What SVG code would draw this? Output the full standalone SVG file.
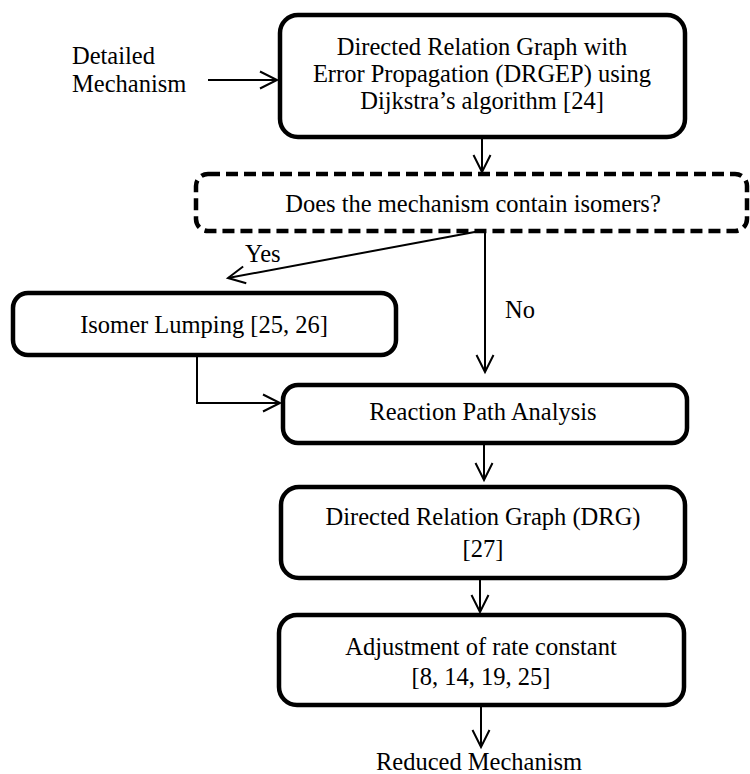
<svg xmlns="http://www.w3.org/2000/svg" width="750" height="774" viewBox="0 0 750 774">
<style>
  .box { fill: #ffffff; stroke: #000000; stroke-width: 4.5; }
  .dash { fill: #ffffff; stroke: #000000; stroke-width: 4.5; stroke-dasharray: 12 6; }
  .lbl { font-family: 'Liberation Serif', 'Times New Roman', serif; font-size: 24.5px; fill: #000000; }
  .c { text-anchor: middle; }
  .conn { fill: none; stroke: #000000; stroke-width: 2; marker-end: url(#arr); }
</style>
<defs>
  <marker id="arr" markerUnits="userSpaceOnUse" markerWidth="24" markerHeight="24" viewBox="-20 -12 24 24" refX="0" refY="0" orient="auto" overflow="visible">
    <path d="M-17,-8.5 L0,0 L-17,8.5" fill="none" stroke="#000000" stroke-width="2"/>
  </marker>
</defs>
<rect width="750" height="774" fill="#ffffff"/>

<g id="connectors">
  <path class="conn" d="M208,80 H277"/>
  <path class="conn" d="M482,137 V172"/>
  <path class="conn" d="M480,231 L228,278"/>
  <path class="conn" d="M485,231 V372"/>
  <path class="conn" d="M197,356 V403 H280"/>
  <path class="conn" d="M484,443 V480"/>
  <path class="conn" d="M480,578 V612"/>
  <path class="conn" d="M481,705 V747"/>
</g>

<g id="detailed" font-family="Liberation Serif, serif">
  <text class="lbl" x="72" y="64">Detailed</text>
  <text class="lbl" x="72" y="92">Mechanism</text>
</g>

<g id="drgep" font-family="Liberation Serif, serif">
  <rect class="box" x="280" y="15" width="405" height="122" rx="18"/>
  <text class="lbl c" x="482" y="55">Directed Relation Graph with</text>
  <text class="lbl c" x="482" y="82">Error Propagation (DRGEP) using</text>
  <text class="lbl c" x="482" y="109">Dijkstra’s algorithm [24]</text>
</g>

<g id="decision" font-family="Liberation Serif, serif">
  <rect class="dash" x="196" y="174" width="551" height="57" rx="12"/>
  <text class="lbl c" x="473" y="212">Does the mechanism contain isomers?</text>
</g>

<g id="yes-label" font-family="Liberation Serif, serif">
  <text class="lbl" x="245" y="262">Yes</text>
</g>
<g id="no-label" font-family="Liberation Serif, serif">
  <text class="lbl" x="505" y="318">No</text>
</g>

<g id="isomer" font-family="Liberation Serif, serif">
  <rect class="box" x="13" y="293" width="383" height="62" rx="15"/>
  <text class="lbl c" x="204" y="333">Isomer Lumping [25, 26]</text>
</g>

<g id="reaction" font-family="Liberation Serif, serif">
  <rect class="box" x="283" y="385" width="404" height="58" rx="15"/>
  <text class="lbl c" x="483" y="420">Reaction Path Analysis</text>
</g>

<g id="drg" font-family="Liberation Serif, serif">
  <rect class="box" x="281" y="487" width="404" height="91" rx="18"/>
  <text class="lbl c" x="483" y="525">Directed Relation Graph (DRG)</text>
  <text class="lbl c" x="483" y="557">[27]</text>
</g>

<g id="adjust" font-family="Liberation Serif, serif">
  <rect class="box" x="279" y="615" width="405" height="90" rx="18"/>
  <text class="lbl c" x="481" y="655">Adjustment of rate constant</text>
  <text class="lbl c" x="481" y="685">[8, 14, 19, 25]</text>
</g>

<g id="reduced" font-family="Liberation Serif, serif">
  <text class="lbl c" x="479" y="770">Reduced Mechanism</text>
</g>
</svg>
